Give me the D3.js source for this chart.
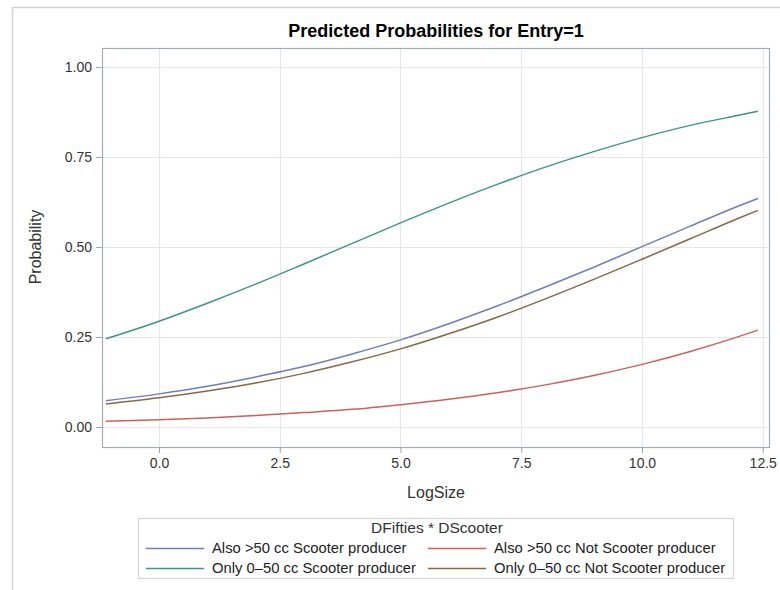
<!DOCTYPE html>
<html>
<head>
<meta charset="utf-8">
<script src="https://cdn.jsdelivr.net/npm/d3@7"></script>
<style>
  html, body { margin: 0; padding: 0; background: #fff; }
  svg { display: block; font-family: "Liberation Sans", Arial, sans-serif; }
</style>
</head>
<body>
<svg id="chart" width="780" height="590"></svg>
<script>
// LogSize positions at which the predicted probabilities are listed
const logSize = [-1.1, 0, 1, 2, 3, 4, 5, 6, 7, 8, 9, 10, 11, 12, 12.4];

// Predicted probability of Entry=1 for each DFifties * DScooter group
const alsoScooter    = [0.073, 0.092, 0.113, 0.139, 0.168, 0.203, 0.242, 0.287, 0.336, 0.389, 0.444, 0.501, 0.558, 0.614, 0.635];
const alsoNotScooter = [0.016, 0.020, 0.025, 0.032, 0.040, 0.049, 0.062, 0.077, 0.095, 0.117, 0.143, 0.174, 0.210, 0.251, 0.269];
const onlyScooter    = [0.245, 0.294, 0.344, 0.397, 0.453, 0.510, 0.567, 0.622, 0.674, 0.722, 0.765, 0.804, 0.838, 0.866, 0.877];
const onlyNotScooter = [0.064, 0.081, 0.100, 0.122, 0.149, 0.181, 0.217, 0.259, 0.305, 0.356, 0.410, 0.466, 0.523, 0.580, 0.602];

const seriesNames = [
  "Also >50 cc Scooter producer",
  "Also >50 cc Not Scooter producer",
  "Only 0\u201350 cc Scooter producer",
  "Only 0\u201350 cc Not Scooter producer"
];
const seriesValues = [alsoScooter, alsoNotScooter, onlyScooter, onlyNotScooter];
const seriesColors = ["#6f7db8", "#cf5f5a", "#3b958b", "#8a6744"];

const xTicks = [0, 2.5, 5, 7.5, 10, 12.5];
const yTicks = [0, 0.25, 0.5, 0.75, 1.0];

const titleText = "Predicted Probabilities for Entry=1";
const xLabel = "LogSize";
const yLabel = "Probability";
const legendTitle = "DFifties * DScooter";

const svg = d3.select("#chart");

// outer graph border
svg.append("rect")
  .attr("x", 12.5).attr("y", 7.5)
  .attr("width", 800).attr("height", 600)
  .attr("fill", "none").attr("stroke", "#d4d4d4").attr("stroke-width", 1.5);

const plot = { left: 102, right: 769, top: 48, bottom: 447 };

const x = d3.scaleLinear().domain([-1.18, 12.63]).range([plot.left, plot.right]);
const y = d3.scaleLinear().domain([-0.0556, 1.053]).range([plot.bottom, plot.top]);

// title
svg.append("text")
  .attr("x", 436).attr("y", 37)
  .attr("text-anchor", "middle")
  .attr("font-size", 18).attr("font-weight", "bold").attr("fill", "#000")
  .text(titleText);

// grid lines
const grid = svg.append("g");
grid.selectAll(".gx").data(xTicks).join("line")
  .attr("x1", d => Math.round(x(d)) + 0.5).attr("x2", d => Math.round(x(d)) + 0.5)
  .attr("y1", plot.top).attr("y2", plot.bottom)
  .attr("stroke", "#e6e6e6").attr("stroke-width", 1.2);
grid.selectAll(".gy").data(yTicks).join("line")
  .attr("y1", d => Math.round(y(d)) + 0.5).attr("y2", d => Math.round(y(d)) + 0.5)
  .attr("x1", plot.left).attr("x2", plot.right)
  .attr("stroke", "#e6e6e6").attr("stroke-width", 1.2);

// axes
const xAxis = d3.axisBottom(x).tickValues(xTicks).tickFormat(d3.format(".1f")).tickSize(6).tickPadding(5);
const yAxis = d3.axisLeft(y).tickValues(yTicks).tickFormat(d3.format(".2f")).tickSize(6).tickPadding(4);

const gx = svg.append("g").attr("transform", `translate(0,${plot.bottom})`).call(xAxis);
const gy = svg.append("g").attr("transform", `translate(${plot.left},0)`).call(yAxis);
[gx, gy].forEach(g => {
  g.select(".domain").remove();
  g.selectAll(".tick line").attr("stroke", "#9aa3ab");
  g.selectAll(".tick text").attr("font-size", 14).attr("fill", "#333")
    .attr("font-family", "'Liberation Sans', Arial, sans-serif");
});

// plot frame
svg.append("rect")
  .attr("x", plot.left + 0.5).attr("y", plot.top + 0.5)
  .attr("width", plot.right - plot.left).attr("height", plot.bottom - plot.top)
  .attr("fill", "none").attr("stroke", "#a3abb2").attr("stroke-width", 1.2);

// axis labels
svg.append("text")
  .attr("x", 436).attr("y", 498)
  .attr("text-anchor", "middle").attr("font-size", 16).attr("fill", "#333")
  .text(xLabel);
svg.append("text")
  .attr("transform", "translate(41,247) rotate(-90)")
  .attr("text-anchor", "middle").attr("font-size", 16).attr("fill", "#333")
  .text(yLabel);

// curves
const line = d3.line()
  .x(d => x(d[0]))
  .y(d => y(d[1]))
  .curve(d3.curveMonotoneX);

svg.append("g").selectAll("path")
  .data(seriesValues.map((vals, i) => ({ i, pts: logSize.map((lx, k) => [lx, vals[k]]) })))
  .join("path")
  .attr("d", d => line(d.pts))
  .attr("fill", "none")
  .attr("stroke", d => seriesColors[d.i])
  .attr("stroke-width", 1.5);

// legend
const legend = svg.append("g");
legend.append("rect")
  .attr("x", 138.5).attr("y", 518.5).attr("width", 595).attr("height", 60)
  .attr("fill", "#fff").attr("stroke", "#d6d6d6").attr("stroke-width", 1.2);
legend.append("text")
  .attr("x", 437).attr("y", 533)
  .attr("text-anchor", "middle").attr("font-size", 15.5).attr("fill", "#333")
  .text(legendTitle);

const legendPos = [
  { lx: 146, ty: 548 }, { lx: 428, ty: 548 },
  { lx: 146, ty: 568 }, { lx: 428, ty: 568 }
];
legendPos.forEach((p, i) => {
  legend.append("line")
    .attr("x1", p.lx).attr("x2", p.lx + 58)
    .attr("y1", p.ty + 0.5).attr("y2", p.ty + 0.5)
    .attr("stroke", seriesColors[i]).attr("stroke-width", 1.5);
  legend.append("text")
    .attr("x", p.lx + 66).attr("y", p.ty)
    .attr("dy", "0.35em")
    .attr("font-size", 14.8).attr("fill", "#222")
    .text(seriesNames[i]);
});
</script>
</body>
</html>
